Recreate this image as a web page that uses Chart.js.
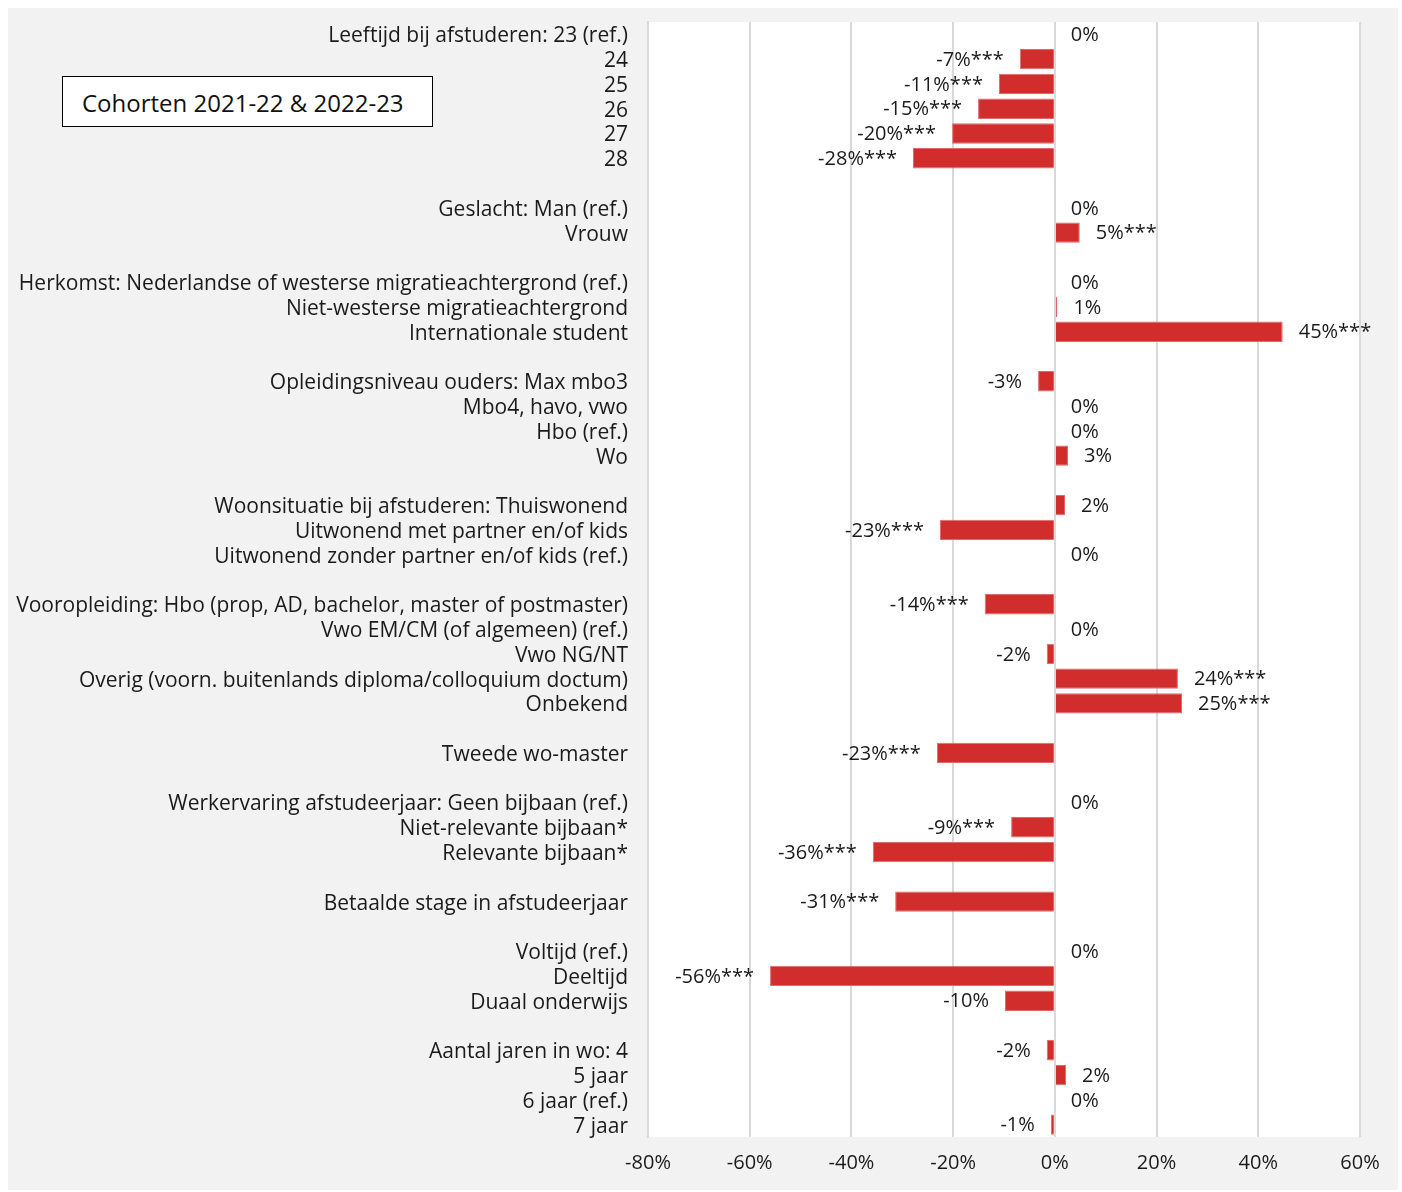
<!DOCTYPE html>
<html>
<head>
<meta charset="utf-8">
<script src="https://cdn.jsdelivr.net/npm/chart.js@4"></script>
<style>
  body { margin: 0; background: #ffffff; }
  #wrap { position: absolute; left: 8px; top: 8px; width: 1390px; height: 1182px; background: #f2f2f2; }
  #cohort {
    position: absolute; left: 54px; top: 68px; width: 371px; height: 51px;
    background: #ffffff; border: 1px solid #000; box-sizing: border-box;
    font-family: "Open Sans", sans-serif; font-size: 24px; color: #111;
    line-height: 52px; padding-left: 19px; white-space: nowrap;
  }
</style>
</head>
<body>
<div id="wrap">
  <canvas id="coefChart" width="1390" height="1182"></canvas>
  <div id="cohort">Cohorten 2021-22 &amp; 2022-23</div>
</div>
<script>
// categories (empty strings are the gaps between the groups)
const categories = [
  "Leeftijd bij afstuderen: 23 (ref.)", "24", "25", "26", "27", "28", "",
  "Geslacht: Man (ref.)", "Vrouw", "",
  "Herkomst: Nederlandse of westerse migratieachtergrond (ref.)", "Niet-westerse migratieachtergrond", "Internationale student", "",
  "Opleidingsniveau ouders: Max mbo3", "Mbo4, havo, vwo", "Hbo (ref.)", "Wo", "",
  "Woonsituatie bij afstuderen: Thuiswonend", "Uitwonend met partner en/of kids", "Uitwonend zonder partner en/of kids (ref.)", "",
  "Vooropleiding: Hbo (prop, AD, bachelor, master of postmaster)", "Vwo EM/CM (of algemeen) (ref.)", "Vwo NG/NT", "Overig (voorn. buitenlands diploma/colloquium doctum)", "Onbekend", "",
  "Tweede wo-master", "",
  "Werkervaring afstudeerjaar: Geen bijbaan (ref.)", "Niet-relevante bijbaan*", "Relevante bijbaan*", "",
  "Betaalde stage in afstudeerjaar", "",
  "Voltijd (ref.)", "Deeltijd", "Duaal onderwijs", "",
  "Aantal jaren in wo: 4", "5 jaar", "6 jaar (ref.)", "7 jaar"
];

// effect in %, null = gap row
const effects = [
  0, -6.9, -11, -15.1, -20.2, -27.9, null,
  0, 4.9, null,
  0, 0.5, 44.8, null,
  -3.3, 0, 0, 2.6, null,
  2, -22.6, 0, null,
  -13.8, 0, -1.6, 24.2, 25, null,
  -23.2, null,
  0, -8.6, -35.8, null,
  -31.4, null,
  0, -56, -9.8, null,
  -1.6, 2.2, 0, -0.8
];

// printed labels next to the bars
const valueLabels = [
  "0%", "-7%***", "-11%***", "-15%***", "-20%***", "-28%***", "",
  "0%", "5%***", "",
  "0%", "1%", "45%***", "",
  "-3%", "0%", "0%", "3%", "",
  "2%", "-23%***", "0%", "",
  "-14%***", "0%", "-2%", "24%***", "25%***", "",
  "-23%***", "",
  "0%", "-9%***", "-36%***", "",
  "-31%***", "",
  "0%", "-56%***", "-10%", "",
  "-2%", "2%", "0%", "-1%"
];

const xTicks = [-80, -60, -40, -20, 0, 20, 40, 60];

const FONT = "'Open Sans', sans-serif";
const TEXT = "#1a1a1a";

// white plot area
const plotBg = {
  id: "plotBg",
  beforeDraw(chart) {
    const a = chart.chartArea, c = chart.ctx;
    c.save();
    c.fillStyle = "#ffffff";
    c.fillRect(a.left, a.top, a.right - a.left, a.bottom - a.top);
    c.restore();
  }
};

// value labels at the bar ends
const barLabels = {
  id: "barLabels",
  afterDatasetsDraw(chart) {
    const c = chart.ctx;
    const meta = chart.getDatasetMeta(0);
    c.save();
    c.font = "20px " + FONT;
    c.fillStyle = TEXT;
    c.textBaseline = "middle";
    meta.data.forEach((el, i) => {
      const txt = valueLabels[i];
      if (!txt) return;
      const v = effects[i];
      if (v < 0) {
        c.textAlign = "right";
        c.fillText(txt, el.x - 16, el.y + 1);
      } else {
        c.textAlign = "left";
        c.fillText(txt, el.x + 16, el.y + 1);
      }
    });
    c.restore();
  }
};

new Chart(document.getElementById("coefChart"), {
  type: "bar",
  data: {
    labels: categories,
    datasets: [{
      data: effects,
      backgroundColor: "#d22d2d",
      borderColor: "#e06a6a",
      borderWidth: 1,
      categoryPercentage: 1,
      barPercentage: 0.82
    }]
  },
  options: {
    indexAxis: "y",
    responsive: false,
    animation: false,
    layout: { padding: { top: 14, right: 38, left: 0, bottom: 0 } },
    plugins: { legend: { display: false }, tooltip: { enabled: false } },
    scales: {
      x: {
        min: -80, max: 60,
        afterBuildTicks(scale) { scale.ticks = xTicks.map(v => ({ value: v })); },
        afterFit(scale) { scale.height = 53; },
        grid: { color: "#d9d9d9", lineWidth: 2, drawTicks: false },
        border: { display: false },
        ticks: {
          padding: 14,
          color: TEXT,
          font: { family: FONT, size: 20 },
          callback: v => v + "%"
        }
      },
      y: {
        afterFit(scale) {
          scale.width = 640;
          scale.paddingTop = 0;
          scale.paddingBottom = 0;
        },
        grid: { display: false, drawTicks: false },
        border: { display: true, color: "#d9d9d9", width: 2 },
        ticks: {
          padding: 20,
          labelOffset: 2,
          autoSkip: false,
          color: TEXT,
          font: { family: FONT, size: 21 }
        }
      }
    }
  },
  plugins: [plotBg, barLabels]
});
</script>
</body>
</html>
